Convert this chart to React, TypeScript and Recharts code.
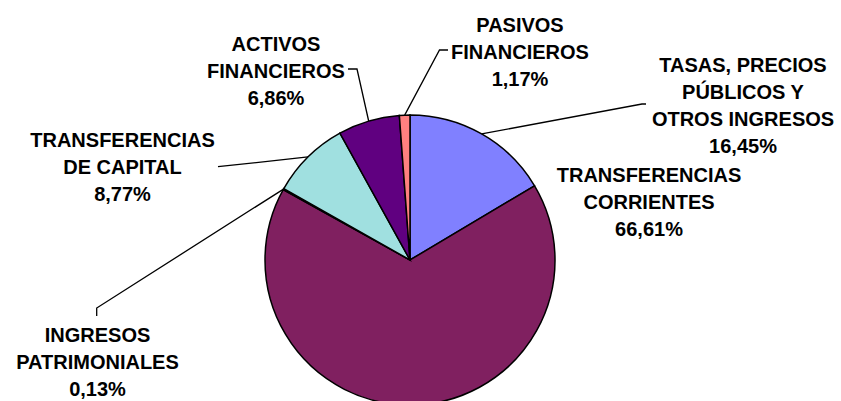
import React from "react";
import { PieChart, Pie, Cell } from "recharts";

// Slice order: clockwise from 12 o'clock, as in the source chart
const categories = [
  "TASAS, PRECIOS PÚBLICOS Y OTROS INGRESOS",
  "TRANSFERENCIAS CORRIENTES",
  "INGRESOS PATRIMONIALES",
  "TRANSFERENCIAS DE CAPITAL",
  "ACTIVOS FINANCIEROS",
  "PASIVOS FINANCIEROS",
];
const shares = [16.45, 66.61, 0.13, 8.77, 6.86, 1.17];
const labelLines = [
  ["TASAS, PRECIOS", "PÚBLICOS Y", "OTROS INGRESOS"],
  ["TRANSFERENCIAS", "CORRIENTES"],
  ["INGRESOS", "PATRIMONIALES"],
  ["TRANSFERENCIAS", "DE CAPITAL"],
  ["ACTIVOS", "FINANCIEROS"],
  ["PASIVOS", "FINANCIEROS"],
];
const colors = ["#8080FF", "#802060", "#FFFFC0", "#A0E0E0", "#600080", "#FF8080"];

const data = categories.map((name, i) => ({ name, value: shares[i] }));

// label placement (text centre x, first baseline y) and leader elbows
const labelLayout = [
  { x: 743, y: 71.5, leader: [[642, 104], [646, 104]] },
  { x: 649, y: 181.5, leader: [] },
  { x: 97.5, y: 341.5, leader: [[96.7, 308], [96.7, 316]] },
  { x: 122.5, y: 146.5, leader: [[218, 166.7]] },
  { x: 276, y: 50.5, leader: [[357, 69], [348, 69]] },
  { x: 520, y: 31.5, leader: [[439.5, 50], [448, 50]] },
];

const LINE_GAP = 27.3;
const RAD = Math.PI / 180;

const renderLabel = (props: any) => {
  const { cx, cy, midAngle, outerRadius, index } = props;
  const lay = labelLayout[index];
  const px = cx + outerRadius * Math.cos(-midAngle * RAD);
  const py = cy + outerRadius * Math.sin(-midAngle * RAD);
  const lines = [...labelLines[index], shares[index].toFixed(2).replace(".", ",") + "%"];
  const d =
    lay.leader.length > 0
      ? `M${px},${py} ` + lay.leader.map((p) => `L${p[0]},${p[1]}`).join(" ")
      : "";
  return (
    <g key={`lbl-${index}`}>
      {d && <path d={d} stroke="#000" strokeWidth={1.3} fill="none" />}
      {lines.map((t, i) => (
        <text
          key={i}
          x={lay.x}
          y={lay.y + i * LINE_GAP}
          textAnchor="middle"
          fontFamily="'Liberation Sans', Arial, sans-serif"
          fontWeight="bold"
          fontSize={20}
          fill="#000"
        >
          {t}
        </text>
      ))}
    </g>
  );
};

export default function App() {
  return (
    <div style={{ position: "absolute", left: 0, top: 0, background: "#fff" }}>
      <PieChart width={841} height={401} margin={{ top: 0, right: 0, bottom: 0, left: 0 }}>
        <Pie
          data={data}
          dataKey="value"
          nameKey="name"
          cx={410}
          cy={260}
          outerRadius={145}
          startAngle={90}
          endAngle={-270}
          stroke="#000"
          strokeWidth={1.5}
          label={renderLabel}
          labelLine={false}
          isAnimationActive={false}
        >
          {data.map((entry, index) => (
            <Cell key={`cell-${index}`} fill={colors[index]} />
          ))}
        </Pie>
      </PieChart>
    </div>
  );
}
